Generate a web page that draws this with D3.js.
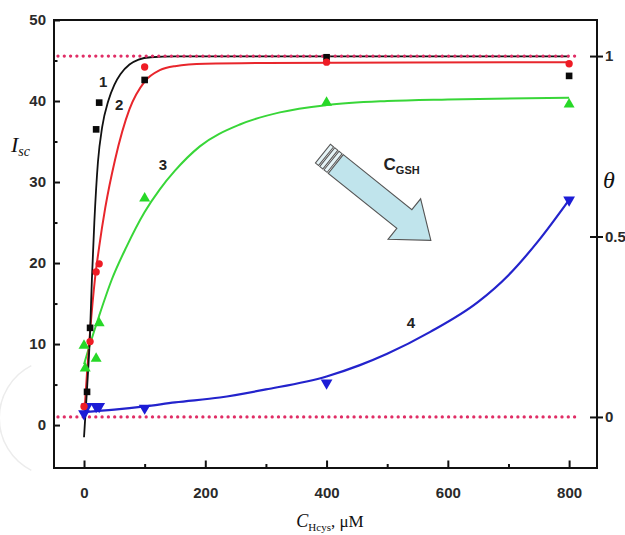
<!DOCTYPE html>
<html><head><meta charset="utf-8">
<script src="https://cdn.jsdelivr.net/npm/d3@7"></script>
<style>body{margin:0;background:#fff}svg{display:block}</style>
</head><body><svg id="c" width="625" height="535"></svg>
<script>
// ---- axis ticks ----
const xTicks = [0, 200, 400, 600, 800];
const xMinorTicks = [100, 300, 500, 700];
const yTicks = [0, 10, 20, 30, 40, 50];
const yMinorTicks = [5, 15, 25, 35, 45];
const thetaTicks = [0, 0.5, 1];
const thetaTickLabels = ["0", "0.5", "1"];

// ---- measured points (C_Hcys µM, Isc) ----
const s1Points = [[5, 4.1], [10, 12], [20, 36.5], [25, 39.8], [100, 42.6], [400, 45.4], [800, 43.1]];
const s2Points = [[0, 2.3], [10, 10.3], [20, 18.9], [25, 19.9], [100, 44.2], [400, 44.8], [800, 44.6]];
const s3Points = [[0, 9.8], [2, 7.0], [20, 8.2], [25, 12.6], [100, 28], [400, 39.8], [800, 39.6]];
const s4Points = [[0, 1.4], [5, 2.3], [20, 2.3], [25, 2.3], [100, 2.1], [400, 5.2], [800, 27.8]];

// ---- fitted curves ----
const s1Fit = [[0, -1.5], [5, 4.5], [10, 11.5], [13, 18], [17, 25], [23, 32.5], [30, 36.8], [40, 40], [50, 42], [60, 43.3], [75, 44.5], [90, 45.1], [110, 45.4], [150, 45.5], [800, 45.5]];
const s2Fit = [[0, 0.8], [5, 6.5], [10, 11.5], [18, 18], [25, 22], [35, 26.8], [51, 32.7], [75, 39], [100, 42.4], [125, 43.8], [150, 44.3], [200, 44.6], [300, 44.7], [800, 44.8]];
const s3Fit = [[0, 7.5], [10, 10], [25, 13.5], [46, 18], [70, 22], [100, 26.3], [125, 29.1], [150, 31.4], [191, 34.4], [257, 37.1], [323, 38.6], [400, 39.5], [500, 40], [600, 40.2], [800, 40.4]];
const s4Fit = [[0, 1.6], [50, 1.9], [100, 2.3], [150, 2.8], [224, 3.4], [300, 4.4], [400, 6.0], [455, 7.4], [500, 8.8], [571, 11.5], [650, 15.2], [700, 18.5], [750, 22.8], [800, 27.8]];

// ---- reference lines (theta = 0 and theta = 1) ----
const refThetas = [0, 1];
const refLineX = [-43, 818];

// ---- curve labels ----
const curveLabels = ["1", "2", "3", "4"];
const curveLabelPos = [[31.5, 41.7], [58, 38.9], [130, 31.5], [539, 12.0]];

// ---- arrow annotation (data coords: tail centre, tip) ----
const arrowTail = [394, 33.5];
const arrowTip = [572, 22.8];
const arrowLabelPos = [494, 31.5];

const M = {l: 54, t: 20, r: 597, b: 468};
const svg = d3.select("#c");

const x = d3.scaleLinear().domain([-49.5, 846]).range([M.l, M.r]);
const y = d3.scaleLinear().domain([-5.3, 50]).range([M.b, M.t]);
// theta: 0 <-> Isc 1.0, 1 <-> Isc 45.55
const th0 = 1.0, th1 = 45.55;
const yT = d3.scaleLinear().domain([(-5.3 - th0) / (th1 - th0), (50 - th0) / (th1 - th0)]).range([M.b, M.t]);

// faint watermark arc at left edge
svg.append("path")
  .attr("d", d3.arc()({innerRadius: 58, outerRadius: 59.5, startAngle: Math.PI * 1.15, endAngle: Math.PI * 1.85}))
  .attr("transform", "translate(58,418)")
  .attr("fill", "#ececec");

const tickFont = "'Liberation Sans', Arial, sans-serif";

// axes
svg.append("g").attr("transform", `translate(${M.l},0)`)
  .call(d3.axisLeft(y).tickValues(yTicks).tickSize(-6).tickPadding(8));
svg.append("g").attr("transform", `translate(${M.l},0)`)
  .call(d3.axisLeft(y).tickValues(yMinorTicks).tickSize(-3.5).tickFormat(""));
svg.append("g").attr("transform", `translate(0,${M.b})`)
  .call(d3.axisBottom(x).tickValues(xTicks).tickSize(-7.5).tickPadding(19));
svg.append("g").attr("transform", `translate(0,${M.b})`)
  .call(d3.axisBottom(x).tickValues(xMinorTicks).tickSize(-4).tickFormat(""));
const gR = svg.append("g").attr("transform", `translate(${M.r},0)`)
  .call(d3.axisRight(yT).tickValues(thetaTicks).tickSize(6).tickPadding(2).tickFormat((d, i) => thetaTickLabels[i]));
gR.selectAll(".tick line").attr("x1", -7);

svg.selectAll(".domain").remove();
svg.selectAll(".tick line").attr("stroke", "#111").attr("stroke-width", 2);
svg.selectAll(".tick text").attr("font-family", tickFont).attr("font-weight", "bold")
  .attr("font-size", 15).attr("fill", "#2a2a2a");

// frame
svg.append("rect").attr("x", M.l).attr("y", M.t).attr("width", M.r - M.l).attr("height", M.b - M.t)
  .attr("fill", "none").attr("stroke", "#111").attr("stroke-width", 2);

// fitted curves
const line = d3.line().x(d => x(d[0])).y(d => y(d[1])).curve(d3.curveMonotoneX);
const fits = [
  {d: s4Fit, c: "#2323cc", w: 2.2},
  {d: s3Fit, c: "#38d638", w: 2},
  {d: s2Fit, c: "#e8262c", w: 2},
  {d: s1Fit, c: "#111111", w: 1.8}
];
svg.selectAll("path.fit").data(fits).join("path").attr("class", "fit")
  .attr("d", f => line(f.d)).attr("fill", "none").attr("stroke", f => f.c).attr("stroke-width", f => f.w);

// reference dotted lines
svg.selectAll("line.ref").data(refThetas).join("line").attr("class", "ref")
  .attr("x1", x(refLineX[0])).attr("x2", x(refLineX[1]))
  .attr("y1", d => yT(d)).attr("y2", d => yT(d))
  .attr("stroke", "#e02e66").attr("stroke-width", 3.2)
  .attr("stroke-dasharray", "0.1 6.2").attr("stroke-linecap", "round");

// markers
const sym = (type, size) => d3.symbol().type(type).size(size)();
const series = [
  {d: s4Points, c: "#1c1cd6", s: sym(d3.symbolTriangle, 60), rot: 180},
  {d: s3Points, c: "#27d827", s: sym(d3.symbolTriangle, 52), rot: 0},
  {d: s1Points, c: "#0a0a0a", s: sym(d3.symbolSquare, 44), rot: 0},
  {d: s2Points, c: "#ee1c25", s: sym(d3.symbolCircle, 42), rot: 0}
];
series.forEach(sr => {
  svg.append("g").selectAll("path").data(sr.d).join("path")
    .attr("d", sr.s)
    .attr("transform", d => `translate(${x(d[0])},${y(d[1])}) rotate(${sr.rot})`)
    .attr("fill", sr.c);
});

// curve labels
svg.selectAll("text.cl").data(curveLabels).join("text").attr("class", "cl")
  .attr("x", (d, i) => x(curveLabelPos[i][0])).attr("y", (d, i) => y(curveLabelPos[i][1]))
  .attr("text-anchor", "middle").attr("font-family", tickFont).attr("font-weight", "bold")
  .attr("font-size", 15).attr("fill", "#222").text(d => d);

// arrow
const tx = x(arrowTail[0]), ty = y(arrowTail[1]);
const px = x(arrowTip[0]), py = y(arrowTip[1]);
const ang = Math.atan2(py - ty, px - tx) * 180 / Math.PI;
const L = Math.hypot(px - tx, py - ty);
const hw = 12, HW = 26, headL = 34;
const ag = svg.append("g").attr("transform", `translate(${tx},${ty}) rotate(${ang})`);
const aFill = "#c0e4ec", aStroke = "#555";
ag.append("path")
  .attr("d", `M16.5,${-hw} L${L - headL},${-hw} L${L - headL},${-HW} L${L},0 L${L - headL},${HW} L${L - headL},${hw} L16.5,${hw} Z`)
  .attr("fill", aFill).attr("stroke", aStroke).attr("stroke-width", 1.1).attr("stroke-linejoin", "miter");
[[0, 4], [5.5, 4], [11, 4]].forEach(s => {
  ag.append("rect").attr("x", s[0]).attr("y", -hw).attr("width", s[1]).attr("height", 2 * hw)
    .attr("fill", "#e6f4f7").attr("stroke", aStroke).attr("stroke-width", 1);
});

// C_GSH label
const cg = svg.append("text").attr("x", x(arrowLabelPos[0])).attr("y", y(arrowLabelPos[1]))
  .attr("font-family", tickFont).attr("font-weight", "bold").attr("fill", "#222");
cg.append("tspan").attr("font-size", 17).text("C");
cg.append("tspan").attr("font-size", 11).attr("dy", 4).text("GSH");

// axis titles
const serif = "'Liberation Serif', 'Times New Roman', serif";
const yl = svg.append("text").attr("x", 11).attr("y", 152).attr("font-family", serif).attr("font-style", "italic").attr("fill", "#111");
yl.append("tspan").attr("font-size", 22).text("I");
yl.append("tspan").attr("font-size", 14).attr("dy", 4).text("sc");

svg.append("text").attr("x", 603).attr("y", 188).attr("font-family", serif).attr("font-style", "italic")
  .attr("font-size", 24).attr("fill", "#111").text("θ");

const xl = svg.append("text").attr("x", 330).attr("y", 527).attr("text-anchor", "middle")
  .attr("font-family", serif).attr("fill", "#111");
xl.append("tspan").attr("font-size", 18).attr("font-style", "italic").text("C");
xl.append("tspan").attr("font-size", 11).attr("dy", 4).text("Hcys");
xl.append("tspan").attr("font-size", 17).attr("dy", -4).text(", μM");
</script></body></html>
